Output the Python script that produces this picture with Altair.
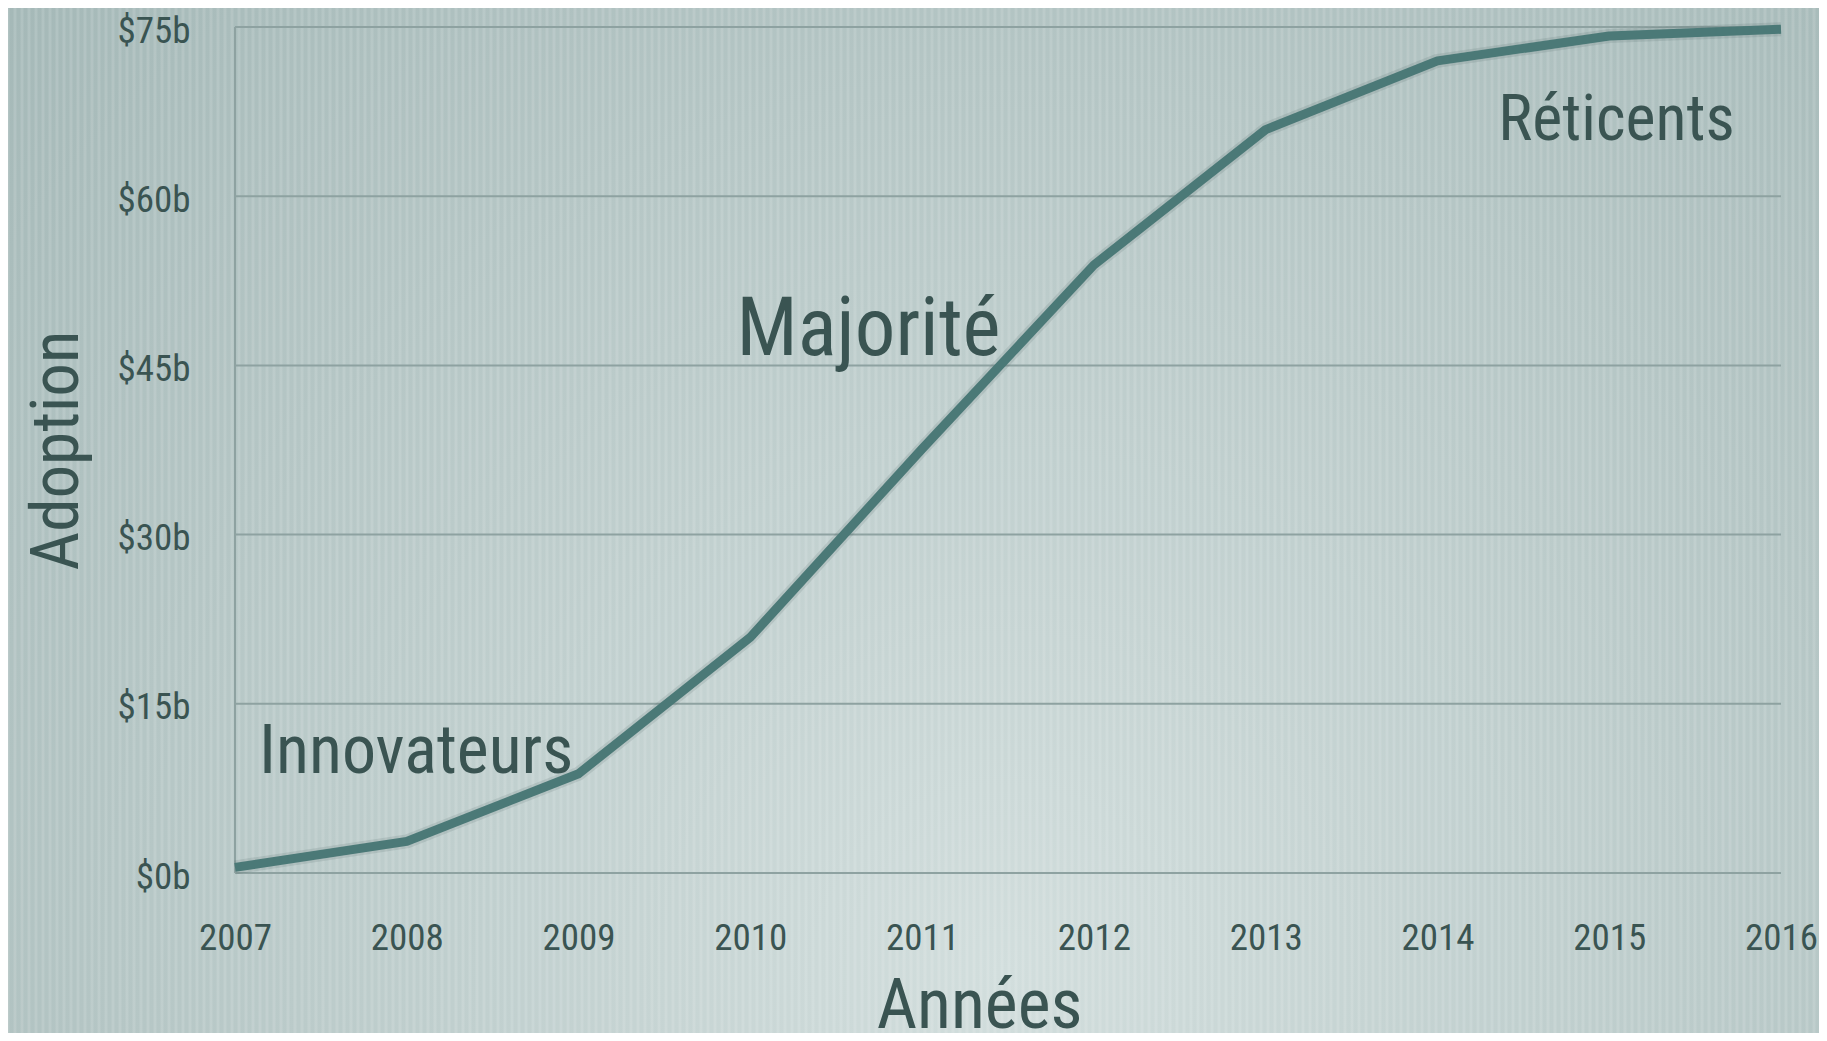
import altair as alt
import pandas as pd

years = [2007, 2008, 2009, 2010, 2011, 2012, 2013, 2014, 2015, 2016]
adoption = [0.5, 2.8, 8.8, 20.9, 37.6, 53.9, 65.9, 72.0, 74.2, 74.8]
y_ticks = [0, 15, 30, 45, 60, 75]

phase_labels = ["Innovateurs", "Majorité", "Réticents"]
phase_x = [2007.14, 2009.92, 2015.73]
phase_y = [8.9, 45.9, 65.0]
phase_align = ["left", "left", "right"]
phase_size = [68, 81, 64]

FONT = "Roboto Condensed"
TEXT = "#3a5452"
LINE = "#4b7977"
GRID = "#8ea2a1"

W, H = 1546, 846
PL, PT, PR, PB = 227, 19, 38, 160

df = pd.DataFrame({"year": years, "value": adoption})
ticks_df = pd.DataFrame({"tick": y_ticks})
ann = pd.DataFrame({"label": phase_labels, "x": phase_x, "y": phase_y,
                    "align": phase_align, "size": phase_size})

xscale = alt.Scale(domain=[2007, 2016], nice=False, zero=False)
yscale = alt.Scale(domain=[0, 75], nice=False)

bg = alt.Chart(df).mark_rect(
    clip=False,
    fill=alt.RadialGradient(
        gradient="radial", x1=0.55, y1=0.75, x2=0.55, y2=0.75, r1=0, r2=0.78,
        stops=[alt.GradientStop(offset=0, color="#d2dedd"),
               alt.GradientStop(offset=1, color="#a4b8b7")],
    ),
).encode(
    x=alt.value(-PL), x2=alt.value(W + PR),
    y=alt.value(-PT), y2=alt.value(H + PB),
)

# subtle vertical stripe texture of the backdrop
stripes = alt.Chart(alt.sequence(-PL, W + PR, 7, as_="px")).mark_rule(
    clip=False, strokeWidth=3, color="#ffffff", opacity=0.13
).encode(
    x=alt.X("px:Q", scale=None), y=alt.value(-PT), y2=alt.value(H + PB)
)

grid = alt.Chart(ticks_df).mark_rule(color=GRID, strokeWidth=2).encode(
    y=alt.Y("tick:Q", scale=yscale), x=alt.value(0), x2=alt.value(W)
)

left_rule = alt.Chart(df).mark_rule(color=GRID, strokeWidth=2).encode(
    x=alt.value(0), y=alt.value(0), y2=alt.value(H)
)

halo = alt.Chart(df).mark_line(color="#2f4b4a", strokeWidth=14, opacity=0.12,
                                strokeJoin="round").encode(
    x=alt.X("year:Q", scale=xscale), y=alt.Y("value:Q", scale=yscale)
)

line = alt.Chart(df).mark_line(color=LINE, strokeWidth=9, strokeCap="butt",
                                strokeJoin="round").encode(
    x=alt.X("year:Q", scale=xscale,
            axis=alt.Axis(title="Années", values=years, format="d",
                          grid=False, domain=False, ticks=False,
                          labelPadding=76, labelBaseline="alphabetic",
                          labelFontSize=37, labelFlush=False,
                          titleFontSize=70, titleX=744, titleY=154,
                          titleBaseline="alphabetic", titleAlign="center",
                          zindex=1)),
    y=alt.Y("value:Q", scale=yscale,
            axis=alt.Axis(title="Adoption", values=y_ticks,
                          labelExpr="'$' + datum.value + 'b'",
                          grid=False, domain=False, ticks=False,
                          labelPadding=45, labelFontSize=37, labelFlush=False,
                          labelOffset=4,
                          titleFontSize=67, titleX=-158, titleY=H / 2,
                          titleBaseline="alphabetic", titleAlign="center",
                          titleAngle=270, zindex=1)),
)

def text_layer(al):
    return alt.Chart(ann).transform_filter(
        alt.datum.align == al
    ).mark_text(baseline="alphabetic", align=al, font=FONT, color=TEXT).encode(
        x=alt.X("x:Q", scale=xscale),
        y=alt.Y("y:Q", scale=yscale),
        text="label:N",
        size=alt.Size("size:Q", scale=None, legend=None),
    )

chart = alt.layer(bg, stripes, grid, left_rule, halo, line,
                  text_layer("left"), text_layer("right")).properties(
    width=W, height=H,
    autosize=alt.AutoSizeParams(type="none"),
    padding={"left": PL, "top": PT, "right": PR, "bottom": PB},
    background="#b3c5c4",
).configure_view(stroke=None).configure_axis(
    labelFont=FONT, titleFont=FONT, labelColor=TEXT, titleColor=TEXT,
    titleFontWeight="normal",
)

chart.save("out.html", embed_options={"renderer": "svg", "actions": False})
